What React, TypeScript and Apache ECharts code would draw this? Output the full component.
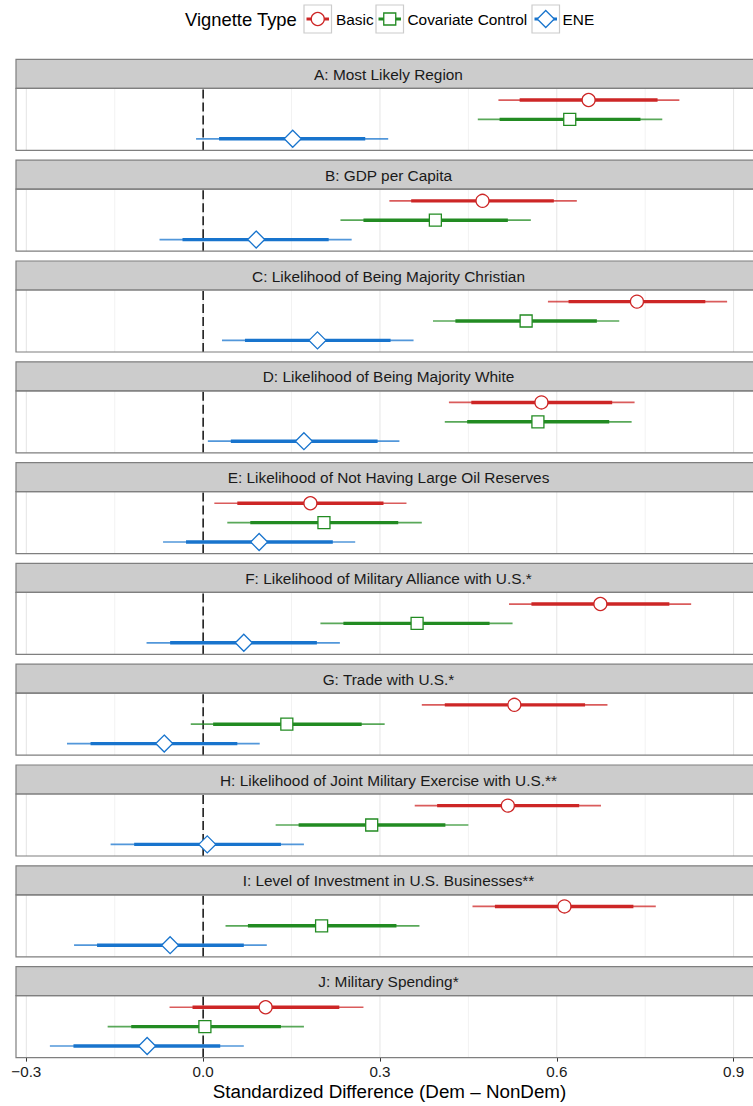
import React, { useEffect, useRef } from "react";
import * as echarts from "echarts";

// ---------- data ----------
const facets = [
  "A: Most Likely Region",
  "B: GDP per Capita",
  "C: Likelihood of Being Majority Christian",
  "D: Likelihood of Being Majority White",
  "E: Likelihood of Not Having Large Oil Reserves",
  "F: Likelihood of Military Alliance with U.S.*",
  "G: Trade with U.S.*",
  "H: Likelihood of Joint Military Exercise with U.S.**",
  "I: Level of Investment in U.S. Businesses**",
  "J: Military Spending*",
];
const types = ["Basic", "Covariate Control", "ENE"];

const basicEst = [0.654, 0.474, 0.736, 0.574, 0.182, 0.674, 0.528, 0.517, 0.613, 0.106];
const basicLo90 = [0.537, 0.353, 0.62, 0.455, 0.058, 0.557, 0.41, 0.397, 0.495, -0.018];
const basicHi90 = [0.771, 0.595, 0.852, 0.694, 0.306, 0.791, 0.648, 0.638, 0.73, 0.231];
const basicLo95 = [0.501, 0.316, 0.585, 0.417, 0.019, 0.519, 0.371, 0.359, 0.457, -0.057];
const basicHi95 = [0.808, 0.634, 0.889, 0.732, 0.345, 0.828, 0.686, 0.675, 0.768, 0.272];

const covEst = [0.622, 0.394, 0.548, 0.568, 0.205, 0.363, 0.142, 0.286, 0.201, 0.003];
const covLo90 = [0.503, 0.272, 0.428, 0.448, 0.08, 0.238, 0.017, 0.162, 0.076, -0.122];
const covHi90 = [0.742, 0.517, 0.668, 0.689, 0.331, 0.486, 0.269, 0.411, 0.328, 0.132];
const covLo95 = [0.466, 0.233, 0.39, 0.41, 0.041, 0.199, -0.021, 0.123, 0.038, -0.162];
const covHi95 = [0.779, 0.556, 0.706, 0.727, 0.371, 0.525, 0.308, 0.45, 0.367, 0.171];

const eneEst = [0.152, 0.09, 0.194, 0.171, 0.095, 0.069, -0.066, 0.007, -0.056, -0.095];
const eneLo90 = [0.027, -0.035, 0.071, 0.047, -0.029, -0.056, -0.191, -0.117, -0.18, -0.22];
const eneHi90 = [0.275, 0.213, 0.318, 0.296, 0.22, 0.193, 0.058, 0.132, 0.069, 0.029];
const eneLo95 = [-0.012, -0.074, 0.032, 0.008, -0.068, -0.096, -0.231, -0.157, -0.219, -0.26];
const eneHi95 = [0.314, 0.252, 0.357, 0.333, 0.258, 0.232, 0.096, 0.171, 0.108, 0.069];

const majorTicks = [-0.3, 0, 0.3, 0.6, 0.9];
const minorTicks = [-0.15, 0.15, 0.45, 0.75];

// ---------- style / layout ----------
const COLORS = ["#CD2626", "#228B22", "#1874CD"];
const FONT = "'Liberation Sans', Arial, Helvetica, sans-serif";
const W = 761;
const H = 1106;
const LEFT = 16;
const PW = 745;
const STRIP_TOP0 = 59.4;
const STEP = 100.8;
const STRIP_H = 29;
const PANEL_H = 62;
const XMIN = -0.3175;
const XMAX = 0.9465;
const stripTop = (i: number) => STRIP_TOP0 + i * STEP;

const fmt = (v: number) => (v < 0 ? "\u2212" + Math.abs(v).toFixed(1) : v.toFixed(1));

function markerEl(kind: number, cx: number, cy: number) {
  const color = COLORS[kind];
  const style = { fill: "#fff", stroke: color, lineWidth: 1.3 };
  if (kind === 0) return { type: "circle", shape: { cx, cy, r: 6.5 }, style };
  if (kind === 1) return { type: "rect", shape: { x: cx - 6, y: cy - 6, width: 12, height: 12 }, style };
  return {
    type: "polygon",
    shape: { points: [[cx, cy - 8.5], [cx + 8.5, cy], [cx, cy + 8.5], [cx - 8.5, cy]] },
    style,
  };
}

function buildOption() {
  const n = facets.length;
  const grids: any[] = [];
  const xAxes: any[] = [];
  const yAxes: any[] = [];
  const series: any[] = [];
  const graphics: any[] = [];

  const gridVals = [
    ...majorTicks.map((v) => [v, 1]),
    ...minorTicks.map((v) => [v, 0]),
  ];

  for (let i = 0; i < n; i++) {
    const top = stripTop(i) + STRIP_H;
    grids.push({ left: LEFT, top, width: PW, height: PANEL_H, containLabel: false });
    const last = i === n - 1;
    xAxes.push({
      type: "value",
      gridIndex: i,
      min: XMIN,
      max: XMAX,
      show: last,
      splitLine: { show: false },
      axisLine: { show: false },
      axisTick: {
        show: true,
        customValues: majorTicks,
        length: 4,
        lineStyle: { color: "#333", width: 1 },
      },
      axisLabel: {
        show: true,
        customValues: majorTicks,
        formatter: fmt,
        fontSize: 15.2,
        color: "#1a1a1a",
        margin: 6,
        fontFamily: FONT,
      },
    });
    yAxes.push({ type: "value", gridIndex: i, min: 0.4, max: 3.6, show: false });

    // grid lines
    series.push({
      type: "custom",
      xAxisIndex: i,
      yAxisIndex: i,
      z: 1,
      silent: true,
      data: gridVals,
      encode: { x: 0 },
      renderItem: (_p: any, api: any) => {
        const v = api.value(0);
        const major = api.value(1) === 1;
        const a = api.coord([v, 0.4]);
        const b = api.coord([v, 3.6]);
        return {
          type: "line",
          shape: { x1: a[0], y1: a[1], x2: b[0], y2: b[1] },
          style: { stroke: major ? "#e5e5e5" : "#f2f2f2", lineWidth: 1 },
        };
      },
    });

    // zero reference line
    series.push({
      type: "custom",
      xAxisIndex: i,
      yAxisIndex: i,
      z: 2,
      silent: true,
      data: [[0]],
      encode: { x: 0 },
      renderItem: (_p: any, api: any) => {
        const a = api.coord([api.value(0), 0.4]);
        const b = api.coord([api.value(0), 3.6]);
        return {
          type: "line",
          shape: { x1: a[0], y1: a[1], x2: b[0], y2: b[1] },
          style: { stroke: "#000", lineWidth: 1.4, lineDash: [9, 4] },
        };
      },
    });

    // estimates
    const rows = [
      [3, basicLo95[i], basicLo90[i], basicEst[i], basicHi90[i], basicHi95[i], 0],
      [2, covLo95[i], covLo90[i], covEst[i], covHi90[i], covHi95[i], 1],
      [1, eneLo95[i], eneLo90[i], eneEst[i], eneHi90[i], eneHi95[i], 2],
    ];
    series.push({
      type: "custom",
      xAxisIndex: i,
      yAxisIndex: i,
      z: 3,
      data: rows,
      encode: { x: [1, 2, 3, 4, 5], y: 0 },
      renderItem: (_p: any, api: any) => {
        const y = api.value(0);
        const kind = api.value(6);
        const color = COLORS[kind];
        const lo95 = api.coord([api.value(1), y]);
        const lo90 = api.coord([api.value(2), y]);
        const est = api.coord([api.value(3), y]);
        const hi90 = api.coord([api.value(4), y]);
        const hi95 = api.coord([api.value(5), y]);
        return {
          type: "group",
          children: [
            {
              type: "line",
              shape: { x1: lo95[0], y1: lo95[1], x2: hi95[0], y2: hi95[1] },
              style: { stroke: color, lineWidth: 1.7, opacity: 0.75 },
            },
            {
              type: "line",
              shape: { x1: lo90[0], y1: lo90[1], x2: hi90[0], y2: hi90[1] },
              style: { stroke: color, lineWidth: 3.4 },
            },
            markerEl(kind, est[0], est[1]),
          ],
        };
      },
    });

    // strip + panel border
    const st = stripTop(i);
    graphics.push({
      type: "rect",
      z: 100,
      silent: true,
      shape: { x: LEFT, y: st, width: PW, height: STRIP_H },
      style: { fill: "#cccccc", stroke: "#7f7f7f", lineWidth: 1.2 },
    });
    graphics.push({
      type: "text",
      z: 101,
      silent: true,
      x: LEFT + PW / 2,
      y: st + STRIP_H / 2 + 0.5,
      style: {
        text: facets[i],
        fontSize: 15.4,
        fontFamily: FONT,
        fill: "#1a1a1a",
        textAlign: "center",
        textVerticalAlign: "middle",
        align: "center",
        verticalAlign: "middle",
      },
    });
    graphics.push({
      type: "rect",
      z: 100,
      silent: true,
      shape: { x: LEFT, y: top, width: PW, height: PANEL_H },
      style: { fill: "none", stroke: "#7f7f7f", lineWidth: 1.2 },
    });
  }

  // legend
  graphics.push({
    type: "text",
    x: 185,
    y: 19.5,
    style: {
      text: "Vignette Type",
      fontSize: 18.4,
      fontFamily: FONT,
      fill: "#000",
      textAlign: "left",
      textVerticalAlign: "middle",
      align: "left",
      verticalAlign: "middle",
    },
  });
  const keyX = [304, 376, 532];
  const labelX = [336, 407.5, 562.5];
  for (let k = 0; k < 3; k++) {
    const x0 = keyX[k];
    const cx = x0 + 13.75;
    const cy = 19;
    graphics.push({
      type: "rect",
      shape: { x: x0, y: 5, width: 27.5, height: 28 },
      style: { fill: "#fff", stroke: "#cccccc", lineWidth: 1.2 },
    });
    graphics.push({
      type: "line",
      shape: { x1: x0 + 2.5, y1: cy, x2: x0 + 25, y2: cy },
      style: { stroke: COLORS[k], lineWidth: 3 },
    });
    graphics.push({ ...markerEl(k, cx, cy), z: 2 });
    graphics.push({
      type: "text",
      x: labelX[k],
      y: 19.5,
      style: {
        text: types[k],
        fontSize: 15.4,
        fontFamily: FONT,
        fill: "#000",
        textAlign: "left",
        textVerticalAlign: "middle",
        align: "left",
        verticalAlign: "middle",
      },
    });
  }

  // x axis title
  graphics.push({
    type: "text",
    x: 389.5,
    y: 1091.5,
    style: {
      text: "Standardized Difference (Dem \u2013 NonDem)",
      fontSize: 18.8,
      fontFamily: FONT,
      fill: "#000",
      textAlign: "center",
      textVerticalAlign: "middle",
      align: "center",
      verticalAlign: "middle",
    },
  });

  return {
    animation: false,
    backgroundColor: "#ffffff",
    textStyle: { fontFamily: FONT },
    grid: grids,
    xAxis: xAxes,
    yAxis: yAxes,
    series,
    graphic: { elements: graphics },
  };
}

export default function App() {
  const ref = useRef<HTMLDivElement>(null);
  useEffect(() => {
    if (!ref.current) return;
    const chart = echarts.init(ref.current, undefined, { renderer: "svg" });
    chart.setOption(buildOption() as any);
    return () => chart.dispose();
  }, []);
  return (
    <div
      style={{
        position: "absolute",
        left: 0,
        top: 0,
        width: 753,
        height: H,
        overflow: "hidden",
        background: "#fff",
      }}
    >
      <div ref={ref} style={{ width: W, height: H }} />
    </div>
  );
}
